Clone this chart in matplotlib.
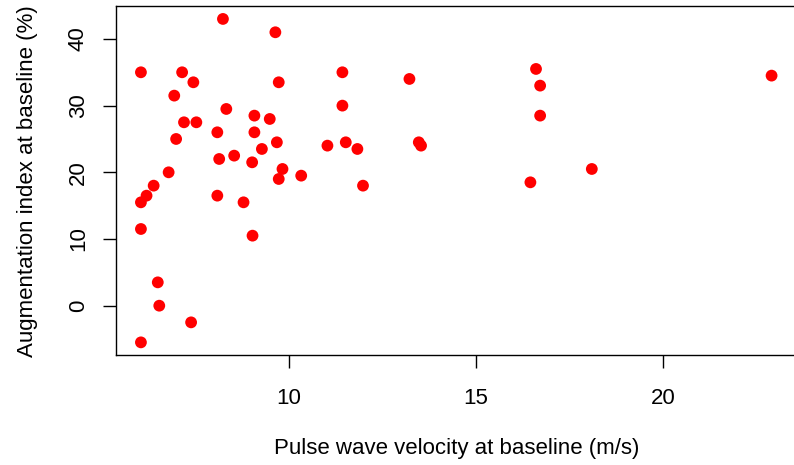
import numpy as np
import matplotlib
matplotlib.use("Agg")
import matplotlib.pyplot as plt

# Datos: velocidad de onda de pulso vs indice de aumento
pwv = [6.05, 7.15, 7.45, 8.24, 9.64, 9.73, 11.43, 11.43, 11.52, 6.94,
       8.33, 9.08, 9.49, 7.20, 7.53, 8.09, 9.08, 6.99, 9.68, 9.28,
       11.03, 8.14, 8.54, 9.02, 6.79, 9.83, 9.73, 10.33, 13.22, 16.60,
       16.71, 16.71, 22.89, 11.83, 13.47, 13.53, 11.98, 16.45, 18.09, 6.39,
       6.20, 6.05, 8.09, 8.79, 6.05, 9.03, 6.50, 6.54, 7.39, 6.05]
aix = [35.0, 35.0, 33.5, 43.0, 41.0, 33.5, 35.0, 30.0, 24.5, 31.5,
       29.5, 28.5, 28.0, 27.5, 27.5, 26.0, 26.0, 25.0, 24.5, 23.5,
       24.0, 22.0, 22.5, 21.5, 20.0, 20.5, 19.0, 19.5, 34.0, 35.5,
       33.0, 28.5, 34.5, 23.5, 24.5, 24.0, 18.0, 18.5, 20.5, 18.0,
       16.5, 15.5, 16.5, 15.5, 11.5, 10.5, 3.5, 0.0, -2.5, -5.5]

x_ticks = [10, 15, 20]
y_ticks = [0, 10, 20, 30, 40]

plt.rcParams['font.family'] = ['Liberation Sans', 'DejaVu Sans']

W, H = 794, 465
fig = plt.figure(figsize=(W / 100, H / 100), dpi=100)

# Posicion de la caja en pixeles (como en R, la derecha queda cortada)
left, right, top, bottom = 115.7, 796.8, 6.0, 355.3
ax = fig.add_axes([left / W, (H - bottom) / H, (right - left) / W, (bottom - top) / H])

ax.scatter(pwv, aix, s=72, color='#ff0000', edgecolors='none', zorder=3)

# Rango con 4% extra como hace R
def rango(v):
    lo, hi = min(v), max(v)
    d = (hi - lo) * 0.04
    return lo - d, hi + d

ax.set_xlim(*rango(pwv))
ax.set_ylim(*rango(aix))
ax.set_xticks(x_ticks)
ax.set_yticks(y_ticks)

for s in ax.spines.values():
    s.set_linewidth(1.0)
ax.spines['right'].set_visible(False)

ax.tick_params(direction='out', length=9.4, width=1.0, labelsize=16)
ax.tick_params(axis='x', pad=14)
ax.tick_params(axis='y', pad=10)
for lab in ax.get_yticklabels():
    lab.set_rotation(90)
    lab.set_va('center')

ax.set_xlabel("Pulse wave velocity at baseline (m/s)", fontsize=16, va='center')
ax.set_ylabel("Augmentation index at baseline (%)", fontsize=16, va='center', ha='center')
ax.xaxis.set_label_coords(0.5, -(448 - bottom) / (bottom - top))
ax.yaxis.set_label_coords(-(left - 27) / (right - left), 0.5)

fig.savefig("out.png", dpi=100)
